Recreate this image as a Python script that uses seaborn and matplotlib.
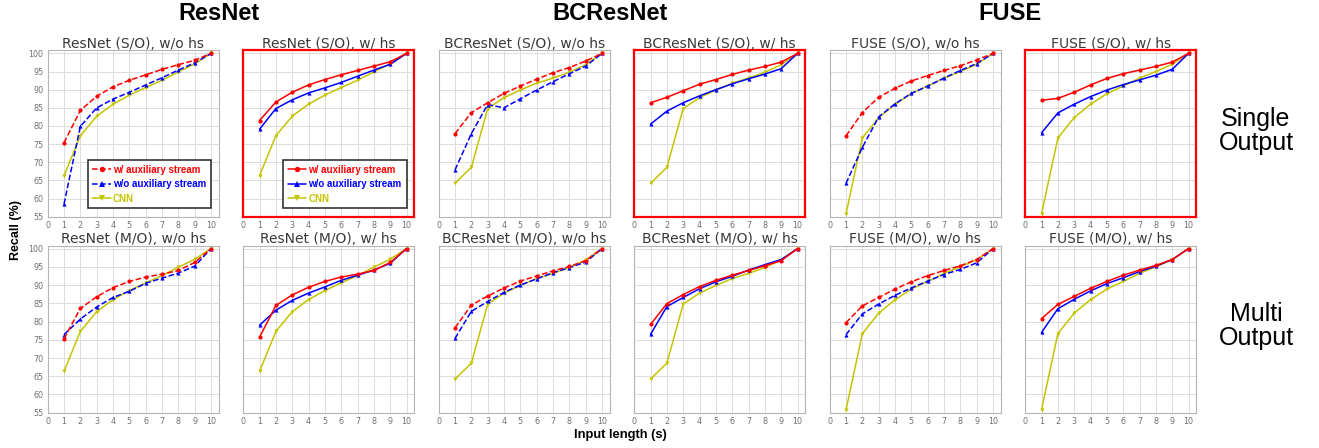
import matplotlib
matplotlib.use("Agg")
import matplotlib.pyplot as plt
import seaborn as sns

x_len = [1, 2, 3, 4, 5, 6, 7, 8, 9, 10]

# CNN baselines (same curve in every panel of a family)
cnn_resnet = [66.3, 77.3, 82.7, 86.0, 88.5, 90.6, 92.6, 94.9, 97.1, 100]
cnn_bcresnet = [64.2, 68.6, 84.8, 87.8, 89.9, 91.8, 93.2, 94.8, 96.9, 100]
cnn_fuse = [55.8, 76.7, 82.3, 86.0, 88.9, 91.0, 93.2, 95.0, 97.0, 100]

# single output
resnet_so_nohs_aux = [75.4, 84.3, 88.2, 90.8, 92.6, 94.1, 95.6, 96.9, 98.1, 100]
resnet_so_nohs_base = [58.5, 79.9, 85.0, 87.4, 89.3, 91.3, 93.3, 95.4, 97.4, 100]
resnet_so_hs_aux = [81.5, 86.6, 89.3, 91.3, 92.8, 94.1, 95.3, 96.5, 97.7, 100]
resnet_so_hs_base = [79.1, 84.8, 87.2, 89.1, 90.5, 92.0, 93.7, 95.4, 97.0, 100]

bcres_so_nohs_aux = [77.9, 83.7, 86.4, 89.0, 91.0, 92.9, 94.7, 96.1, 97.9, 100]
bcres_so_nohs_base = [67.9, 77.9, 85.9, 85.0, 87.5, 89.9, 92.2, 94.4, 96.5, 100]
bcres_so_hs_aux = [86.4, 87.9, 89.7, 91.5, 92.8, 94.2, 95.4, 96.4, 97.6, 100]
bcres_so_hs_base = [80.5, 84.1, 86.4, 88.3, 90.0, 91.6, 93.0, 94.3, 95.8, 100]

fuse_so_nohs_aux = [77.3, 83.7, 87.9, 90.4, 92.4, 93.9, 95.3, 96.6, 98.2, 100]
fuse_so_nohs_base = [64.2, 74.1, 82.5, 86.1, 89.0, 91.0, 93.2, 95.3, 97.2, 100]
fuse_so_hs_aux = [87.1, 87.6, 89.3, 91.3, 93.1, 94.4, 95.4, 96.4, 97.6, 100]
fuse_so_hs_base = [78.1, 83.6, 86.0, 88.1, 89.9, 91.4, 92.7, 94.0, 95.6, 100]

# multi output
resnet_mo_nohs_aux = [75.3, 83.6, 86.8, 89.3, 91.0, 92.2, 93.0, 94.0, 96.2, 100]
resnet_mo_nohs_base = [76.4, 80.7, 84.0, 86.6, 88.3, 90.5, 91.9, 93.3, 95.2, 100]
resnet_mo_hs_aux = [75.7, 84.4, 87.3, 89.4, 91.0, 92.2, 93.0, 94.0, 96.2, 100]
resnet_mo_hs_base = [79.0, 83.1, 85.8, 87.8, 89.5, 91.3, 92.7, 94.1, 96.0, 100]

bcres_mo_nohs_aux = [78.3, 84.5, 87.0, 89.2, 91.1, 92.5, 93.9, 95.1, 96.7, 100]
bcres_mo_nohs_base = [75.4, 82.8, 85.5, 88.0, 90.0, 91.7, 93.4, 94.8, 96.3, 100]
bcres_mo_hs_aux = [79.2, 84.9, 87.4, 89.6, 91.3, 92.7, 94.0, 95.3, 96.7, 100]
bcres_mo_hs_base = [76.5, 84.1, 86.6, 89.0, 90.9, 92.4, 94.1, 95.6, 97.0, 100]

fuse_mo_nohs_aux = [79.7, 84.3, 86.6, 88.9, 90.9, 92.6, 94.0, 95.3, 97.0, 100]
fuse_mo_nohs_base = [76.4, 82.1, 84.8, 87.2, 89.2, 91.1, 92.9, 94.3, 96.1, 100]
fuse_mo_hs_aux = [80.8, 84.7, 86.9, 89.1, 91.0, 92.7, 94.1, 95.4, 97.0, 100]
fuse_mo_hs_base = [77.0, 83.5, 86.1, 88.4, 90.4, 92.0, 93.7, 95.2, 97.0, 100]

panels = [
    (0, 0, "ResNet (S/O), w/o hs", resnet_so_nohs_aux, resnet_so_nohs_base, cnn_resnet, False),
    (0, 1, "ResNet (S/O), w/ hs", resnet_so_hs_aux, resnet_so_hs_base, cnn_resnet, True),
    (0, 2, "BCResNet (S/O), w/o hs", bcres_so_nohs_aux, bcres_so_nohs_base, cnn_bcresnet, False),
    (0, 3, "BCResNet (S/O), w/ hs", bcres_so_hs_aux, bcres_so_hs_base, cnn_bcresnet, True),
    (0, 4, "FUSE (S/O), w/o hs", fuse_so_nohs_aux, fuse_so_nohs_base, cnn_fuse, False),
    (0, 5, "FUSE (S/O), w/ hs", fuse_so_hs_aux, fuse_so_hs_base, cnn_fuse, True),
    (1, 0, "ResNet (M/O), w/o hs", resnet_mo_nohs_aux, resnet_mo_nohs_base, cnn_resnet, False),
    (1, 1, "ResNet (M/O), w/ hs", resnet_mo_hs_aux, resnet_mo_hs_base, cnn_resnet, True),
    (1, 2, "BCResNet (M/O), w/o hs", bcres_mo_nohs_aux, bcres_mo_nohs_base, cnn_bcresnet, False),
    (1, 3, "BCResNet (M/O), w/ hs", bcres_mo_hs_aux, bcres_mo_hs_base, cnn_bcresnet, True),
    (1, 4, "FUSE (M/O), w/o hs", fuse_mo_nohs_aux, fuse_mo_nohs_base, cnn_fuse, False),
    (1, 5, "FUSE (M/O), w/ hs", fuse_mo_hs_aux, fuse_mo_hs_base, cnn_fuse, True),
]

sns.set_style("whitegrid")
plt.rcParams["font.family"] = "DejaVu Sans"

W, H = 1319, 448
fig = plt.figure(figsize=(W / 100, H / 100), dpi=100)

RED, BLUE, YEL = "#ff0000", "#0000ff", "#c4c400"
lw = 1.1

for row, col, title, aux, base, cnn, hs in panels:
    left = 47.7 + col * 195.5
    top, bottom = (50.5, 216.7) if row == 0 else (245.7, 412.7)
    ax = fig.add_axes([left / W, 1 - bottom / H, 171 / W, (bottom - top) / H])
    ls = "-" if hs else "--"
    sns.lineplot(x=x_len, y=cnn, ax=ax, color=YEL, marker="v", markersize=3,
                 markeredgewidth=0, linestyle="-", linewidth=lw)
    sns.lineplot(x=x_len, y=base, ax=ax, color=BLUE, marker="^", markersize=3,
                 markeredgewidth=0, linestyle=ls, linewidth=lw)
    sns.lineplot(x=x_len, y=aux, ax=ax, color=RED, marker="o", markersize=3,
                 markeredgewidth=0, linestyle=ls, linewidth=lw)
    ax.set_xlim(0, 10.47)
    ax.set_ylim(55, 100.8)
    ax.set_xticks(range(0, 11))
    ax.set_yticks(range(55, 101, 5))
    ax.grid(True, color="#dcdcdc", linewidth=0.7)
    ax.set_title(title, fontsize=10, color="#3a3a3a", pad=2)
    ax.tick_params(axis="both", labelsize=5.8, labelcolor="#707070",
                   length=2, width=0.5, color="#999999", pad=1)
    if col > 0:
        ax.tick_params(axis="y", labelleft=False, length=0)
    for sp in ax.spines.values():
        if hs and row == 0:
            sp.set_color(RED)
            sp.set_linewidth(1.6)
        else:
            sp.set_color("#b5b5b5")
            sp.set_linewidth(0.8)
    if row == 0 and col < 2:
        lines = ax.get_lines()
        ax.legend([lines[2], lines[1], lines[0]],
                  ["w/ auxiliary stream", "w/o auxiliary stream", "CNN"],
                  loc="lower right", bbox_to_anchor=(0.955, 0.05),
                  borderaxespad=0, fancybox=False, framealpha=1,
                  edgecolor="#333333", labelcolor="linecolor",
                  handlelength=1.9, handletextpad=0.2, borderpad=0.5,
                  labelspacing=0.45, markerscale=1.3,
                  prop={"family": "Liberation Sans", "weight": "bold", "size": 7})
        ax.get_legend().get_frame().set_linewidth(1.2)

# group headers
for x, txt in [(219, "ResNet"), (610, "BCResNet"), (1010, "FUSE")]:
    fig.text(x / W, 1 - 14 / H, txt, ha="center", va="center", fontsize=17,
             fontweight="bold", family="Liberation Sans", color="black")

fig.text(1256 / W, 1 - 131 / H, "Single\nOutput", ha="center", va="center",
         fontsize=18, family="Liberation Sans", linespacing=1.0, color="black")
fig.text(1256 / W, 1 - 326 / H, "Multi\nOutput", ha="center", va="center",
         fontsize=18, family="Liberation Sans", linespacing=1.0, color="black")

fig.text(16 / W, 1 - 230 / H, "Recall (%)", rotation=90, ha="center", va="center",
         fontsize=9, fontweight="bold", family="Liberation Sans", color="black")
fig.text(620 / W, 1 - 435 / H, "Input length (s)", ha="center", va="center",
         fontsize=9.3, fontweight="bold", family="Liberation Sans", color="black")

fig.savefig("out.png", dpi=100)
